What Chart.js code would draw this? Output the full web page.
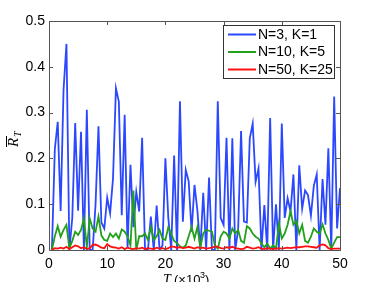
<!DOCTYPE html>
<html>
<head>
<meta charset="utf-8">
<script src="https://cdn.jsdelivr.net/npm/chart.js@4"></script>
<style>
  html, body { margin: 0; padding: 0; background: #fff; }
  #wrap { width: 374px; height: 282px; }
</style>
</head>
<body>
<div id="wrap"><canvas id="chart" width="374" height="282"></canvas></div>
<script>
/* ---- DATA ---- */
const T = [0.5, 1, 1.5, 2, 2.5, 3, 3.5, 4, 4.5, 5, 5.5, 6, 6.5, 7, 7.5, 8, 8.5, 9, 9.5, 10,
  10.5, 11, 11.5, 12, 12.5, 13, 13.5, 14, 14.5, 15, 15.5, 16, 16.5, 17, 17.5, 18, 18.5, 19, 19.5, 20,
  20.5, 21, 21.5, 22, 22.5, 23, 23.5, 24, 24.5, 25, 25.5, 26, 26.5, 27, 27.5, 28, 28.5, 29, 29.5, 30,
  30.5, 31, 31.5, 32, 32.5, 33, 33.5, 34, 34.5, 35, 35.5, 36, 36.5, 37, 37.5, 38, 38.5, 39, 39.5, 40,
  40.5, 41, 41.5, 42, 42.5, 43, 43.5, 44, 44.5, 45, 45.5, 46, 46.5, 47, 47.5, 48, 48.5, 49, 49.5, 50];

const N3K1 = [0.0, 0.22, 0.28, 0.085, 0.35, 0.45, 0.0, 0.07, 0.277, 0.086,
  0.258, 0.0, 0.306, 0.0, 0.0, 0.1, 0.27, 0.06, 0.047, 0.114,
  0.08, 0.156, 0.353, 0.324, 0.076, 0.295, 0.005, 0.186, 0.05, 0.127,
  0.084, 0.245, 0.0, 0.0, 0.073, 0.0, 0.097, 0.0, 0.01, 0.2,
  0.07, 0.0, 0.206, 0.0, 0.325, 0.062, 0.175, 0.15, 0.04, 0.142,
  0.086, 0.0, 0.125, 0.0, 0.158, 0.0, 0.0, 0.325, 0.07, 0.055,
  0.245, 0.0, 0.244, 0.0, 0.045, 0.26, 0.062, 0.06, 0.244, 0.276,
  0.149, 0.178, 0.0, 0.098, 0.0, 0.288, 0.0, 0.1, 0.0, 0.276,
  0.07, 0.113, 0.084, 0.165, 0.0, 0.185, 0.09, 0.13, 0.12, 0.075,
  0.14, 0.165, 0.0, 0.155, 0.055, 0.222, 0.0, 0.335, 0.047, 0.135];

const N10K5 = [0.0, 0.03, 0.052, 0.029, 0.044, 0.055, 0.004, 0.02, 0.04, 0.033,
  0.044, 0.069, 0.006, 0.069, 0.047, 0.04, 0.073, 0.032, 0.022, 0.02,
  0.036, 0.028, 0.036, 0.025, 0.045, 0.04, 0.03, 0.01, 0.13, 0.0,
  0.03, 0.03, 0.036, 0.022, 0.05, 0.022, 0.03, 0.044, 0.025, 0.022,
  0.05, 0.035, 0.02, 0.015, 0.008, 0.005, 0.01, 0.03, 0.05, 0.025,
  0.05, 0.006, 0.036, 0.044, 0.042, 0.04, 0.01, 0.003, 0.03, 0.04,
  0.036, 0.025, 0.047, 0.036, 0.044, 0.02, 0.016, 0.052, 0.047, 0.036,
  0.029, 0.025, 0.014, 0.006, 0.014, 0.003, 0.01, 0.003, 0.058, 0.025,
  0.036, 0.055, 0.085, 0.055, 0.064, 0.036, 0.055, 0.02, 0.016, 0.029,
  0.047, 0.04, 0.036, 0.056, 0.036, 0.022, 0.003, 0.016, 0.028, 0.028];

const N50K25 = [0.0, 0.004, 0.003, 0.005, 0.003, 0.007, 0.002, 0.006, 0.01, 0.008,
  0.004, 0.006, 0.002, 0.004, 0.011, 0.012, 0.009, 0.005, 0.004, 0.013,
  0.008, 0.006, 0.005, 0.003, 0.006, 0.002, 0.005, 0.003, 0.002, 0.004,
  0.003, 0.005, 0.002, 0.004, 0.003, 0.002, 0.005, 0.003, 0.004, 0.002,
  0.004, 0.008, 0.007, 0.005, 0.006, 0.004, 0.005, 0.007, 0.005, 0.003,
  0.006, 0.004, 0.005, 0.003, 0.004, 0.005, 0.008, 0.007, 0.004, 0.003,
  0.006, 0.005, 0.007, 0.004, 0.003, 0.002, 0.003, 0.007, 0.005, 0.003,
  0.004, 0.006, 0.003, 0.002, 0.004, 0.003, 0.002, 0.003, 0.004, 0.003,
  0.004, 0.005, 0.004, 0.005, 0.006, 0.006, 0.007, 0.008, 0.008, 0.007,
  0.006, 0.005, 0.01, 0.012, 0.01, 0.004, 0.002, 0.003, 0.003, 0.003];

const X_TICKS = [0, 10, 20, 30, 40, 50];
const Y_TICKS = [0, 0.1, 0.2, 0.3, 0.4, 0.5];
const LABELS = ['N=3, K=1', 'N=10, K=5', 'N=50, K=25'];
const COLORS = ['#2b48ff', '#22a01c', '#ff1010'];

const FONT = '"Liberation Sans", Arial, Helvetica, sans-serif';
const SERIF = '"Liberation Serif", "DejaVu Serif", serif';

/* ---- FRAME, LEGEND, TITLES ---- */
const framePlugin = {
  id: 'frame',
  afterDraw(chart) {
    const { ctx, chartArea: a, scales } = chart;
    ctx.save();
    ctx.strokeStyle = '#555';
    ctx.lineWidth = 1;
    ctx.strokeRect(a.left + 0.5, a.top + 0.5, a.right - a.left, a.bottom - a.top);

    // inward ticks on all four sides
    ctx.beginPath();
    X_TICKS.forEach(v => {
      const x = Math.round(scales.x.getPixelForValue(v)) + 0.5;
      ctx.moveTo(x, a.bottom); ctx.lineTo(x, a.bottom - 4);
      ctx.moveTo(x, a.top); ctx.lineTo(x, a.top + 4);
    });
    Y_TICKS.forEach(v => {
      const y = Math.round(scales.y.getPixelForValue(v)) + 0.5;
      ctx.moveTo(a.left, y); ctx.lineTo(a.left + 4, y);
      ctx.moveTo(a.right, y); ctx.lineTo(a.right - 4, y);
    });
    ctx.stroke();

    // legend box
    const lx = 223, ly = 25, lw = 111, lh = 53;
    ctx.fillStyle = '#fff';
    ctx.fillRect(lx, ly, lw, lh);
    ctx.strokeStyle = '#333';
    ctx.strokeRect(lx + 0.5, ly + 0.5, lw, lh);
    ctx.font = '14px ' + FONT;
    ctx.textBaseline = 'middle';
    ctx.textAlign = 'left';
    LABELS.forEach((lab, i) => {
      const y = 34.5 + i * 17.5;
      ctx.strokeStyle = COLORS[i];
      ctx.lineWidth = 2;
      ctx.beginPath();
      ctx.moveTo(228, y); ctx.lineTo(256, y);
      ctx.stroke();
      ctx.fillStyle = '#000';
      ctx.fillText(lab, 258, y + 0.5);
    });

    // y title: R-bar sub T
    ctx.save();
    ctx.translate(18, 147);
    ctx.rotate(-Math.PI / 2);
    ctx.fillStyle = '#000';
    ctx.textBaseline = 'alphabetic';
    ctx.font = 'italic 15px ' + SERIF;
    ctx.fillText('R', 0, 0);
    ctx.strokeStyle = '#000';
    ctx.lineWidth = 1;
    ctx.beginPath();
    ctx.moveTo(0, -11.5); ctx.lineTo(11, -11.5);
    ctx.stroke();
    ctx.font = 'italic 10px ' + SERIF;
    ctx.fillText('T', 10, 3);
    ctx.restore();

    // x title (clipped at the bottom edge like the reference)
    ctx.fillStyle = '#000';
    ctx.textBaseline = 'alphabetic';
    ctx.font = 'italic 14px ' + SERIF;
    ctx.fillText('T', 163, 284);
    ctx.font = '13px ' + FONT;
    ctx.fillText('(×10', 174, 284);
    ctx.font = '9px ' + FONT;
    ctx.fillText('3', 200, 278);
    ctx.font = '13px ' + FONT;
    ctx.fillText(')', 205, 284);
    ctx.restore();
  }
};

/* ---- CHART ---- */
const datasets = [N3K1, N10K5, N50K25].map((vals, i) => ({
  label: LABELS[i],
  data: T.map((t, j) => ({ x: t, y: vals[j] })),
  borderColor: COLORS[i],
  borderWidth: 1.8,
  pointRadius: 0,
  tension: 0,
  fill: false,
  order: 2 - i,
}));

new Chart(document.getElementById('chart'), {
  type: 'line',
  data: { datasets },
  options: {
    responsive: false,
    devicePixelRatio: 1,
    animation: false,
    layout: { padding: { top: 21, right: 34, left: 0, bottom: 0 } },
    plugins: { legend: { display: false }, tooltip: { enabled: false } },
    scales: {
      x: {
        type: 'linear',
        min: 0, max: 50,
        afterBuildTicks: s => { s.ticks = X_TICKS.map(v => ({ value: v })); },
        afterFit: s => { s.height = 32; },
        grid: { display: false, drawTicks: false },
        border: { display: false },
        ticks: { color: '#000', font: { family: FONT, size: 14 }, padding: 6, maxRotation: 0 },
      },
      y: {
        type: 'linear',
        min: 0, max: 0.5,
        afterBuildTicks: s => { s.ticks = Y_TICKS.map(v => ({ value: v })); },
        afterFit: s => { s.width = 49; },
        grid: { display: false, drawTicks: false },
        border: { display: false },
        ticks: {
          color: '#000', font: { family: FONT, size: 14 }, padding: 4,
          callback: v => v === 0 ? '0' : v.toFixed(1),
        },
      },
    },
  },
  plugins: [framePlugin],
});
</script>
</body>
</html>
